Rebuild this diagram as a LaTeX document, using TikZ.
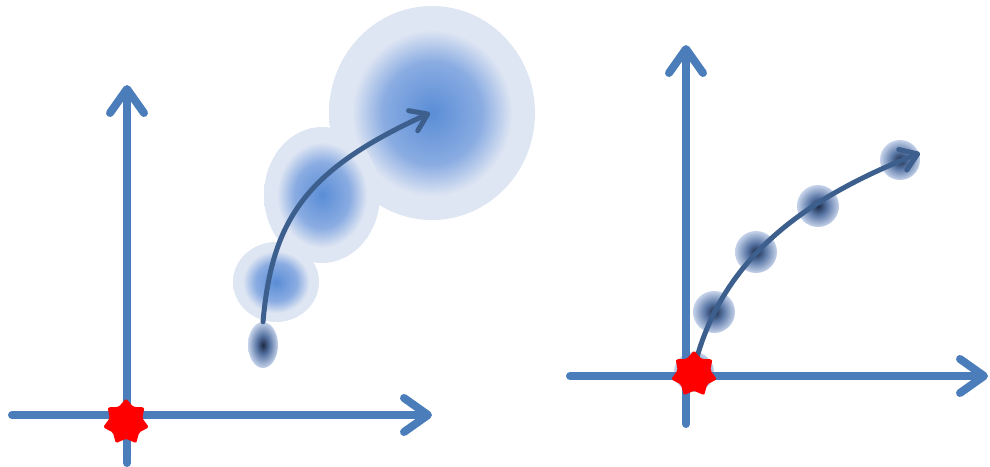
\documentclass[tikz,border=0pt]{standalone}
\usetikzlibrary{shapes.geometric,arrows.meta}
\definecolor{axisblue}{HTML}{4A7DBA}
\definecolor{curveblue}{HTML}{3C5F8D}
\definecolor{blobin}{HTML}{5A8DD6}
\definecolor{blobmid}{HTML}{8AACE2}
\definecolor{blobout}{HTML}{DFE6F3}
\definecolor{darkin}{HTML}{1C2B47}
\definecolor{darkmid}{HTML}{5A77A6}
\definecolor{darkout}{HTML}{C6D3EA}
\pgfdeclareradialshading{lightblob}{\pgfpoint{0bp}{0bp}}{color(0bp)=(blobin); color(12bp)=(blobmid); color(19.5bp)=(blobout); color(25bp)=(blobout); color(50bp)=(blobout)}
\pgfdeclareradialshading{darkblob}{\pgfpoint{0bp}{0bp}}{color(0bp)=(darkin); color(11bp)=(darkmid); color(25bp)=(darkout); color(50bp)=(darkout)}
\tikzset{
  lblob/.style={ellipse, inner sep=0pt, shading=lightblob},
  dblob/.style={ellipse, inner sep=0pt, shading=darkblob},
  axisline/.style={draw=axisblue, line width=8pt, line cap=round,
    -{Straight Barb[length=24pt,width=34pt,line cap=round,line join=round]}},
  curvearrow/.style={draw=curveblue, line width=5pt, line cap=round,
    -{Straight Barb[length=16pt,width=22pt,line cap=round,line join=round]}},
  redstar/.style={star, star points=7, star point ratio=1.4, minimum size=47pt, inner sep=0pt, fill=red, rounded corners=1.5pt}
}
\begin{document}
\begin{tikzpicture}[x=1pt,y=-1pt]
\useasboundingbox (0,0) rectangle (990,466);
% left diagram
\node[lblob, minimum width=206pt, minimum height=214pt] (b3) at (432,113) {};
\node[lblob, minimum width=116pt, minimum height=136pt] (b2) at (322,195) {};
\node[lblob, minimum width=86pt, minimum height=80pt] (b1) at (276,282) {};
\node[dblob, minimum width=30pt, minimum height=46pt] (e1) at (263,345) {};
\coordinate (lx0) at (12,415);
\coordinate (lx1) at (432,415);
\coordinate (ly0) at (127,463);
\coordinate (ly1) at (127,85);
\draw[axisline] (lx0) -- (lx1);
\draw[axisline] (ly0) -- (ly1);
\coordinate (lend) at (430,113);
\draw[curvearrow] (e1.north) .. controls (272,220) and (305,170) .. (lend);
\node[redstar] (s1) at (126,422) {};
% right diagram
\node[dblob, minimum size=40pt] (d0) at (694,372) {};
\node[dblob, minimum size=42pt] (d1) at (714,312) {};
\node[dblob, minimum size=42pt] (d2) at (756,252) {};
\node[dblob, minimum size=42pt] (d3) at (818,206) {};
\node[dblob, minimum size=40pt] (d4) at (900,160) {};
\coordinate (rx0) at (570,376);
\coordinate (rx1) at (988,376);
\coordinate (ry0) at (686,424);
\coordinate (ry1) at (686,45);
\draw[axisline] (rx0) -- (rx1);
\draw[axisline] (ry0) -- (ry1);
\coordinate (rstart) at (697,357);
\coordinate (rend) at (920,153);
\draw[curvearrow] (rstart) .. controls (725,260) and (800,200) .. (rend);
\node[redstar] (s2) at (694,374) {};
\end{tikzpicture}
\end{document}
